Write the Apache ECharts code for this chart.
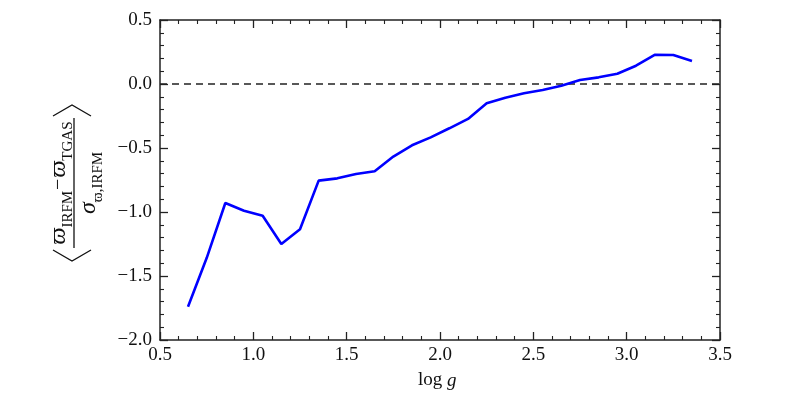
<!DOCTYPE html>
<html>
<head>
<meta charset="utf-8">
<script src="https://cdn.jsdelivr.net/npm/echarts@6/dist/echarts.min.js"></script>
<style>html,body{margin:0;padding:0;background:#fff;} #c{width:800px;height:400px;}</style>
</head>
<body>
<div id="c"></div>
<script>
const logg = [0.65,0.75,0.85,0.95,1.05,1.15,1.25,1.35,1.45,1.55,1.65,1.75,1.85,1.95,2.05,2.15,2.25,2.35,2.45,2.55,2.65,2.75,2.85,2.95,3.05,3.15,3.25,3.35];
const meanDiff = [-1.74,-1.36,-0.93,-0.99,-1.03,-1.25,-1.135,-0.755,-0.737,-0.703,-0.682,-0.567,-0.479,-0.417,-0.346,-0.273,-0.151,-0.107,-0.073,-0.047,-0.013,0.031,0.052,0.08,0.143,0.228,0.226,0.18];
const xRange = [0.5, 3.5];
const yRange = [-2.0, 0.5];
const zeroLine = [[0.5,0],[3.5,0]];

const FONT = '"Liberation Serif", "DejaVu Serif", serif';
const AX = '#222';
const fmt = v => v.toFixed(1).replace('-', '\u2212');

function mkX(pos, show) {
  return {
    type:'value', position:pos, min:xRange[0], max:xRange[1], interval:0.5,
    axisLine:{show:true, onZero:false, lineStyle:{color:AX, width:1.5}},
    axisTick:{show:true, inside:true, length:8, lineStyle:{color:AX, width:1.3}},
    minorTick:{show:true, splitNumber:5, length:4, lineStyle:{color:AX, width:1.1}},
    splitLine:{show:false},
    axisLabel:{show:show, color:'#111', fontFamily:FONT, fontSize:19, margin:6, formatter:fmt, showMinLabel:true, showMaxLabel:true}
  };
}
function mkY(pos, show) {
  return {
    type:'value', position:pos, min:yRange[0], max:yRange[1], interval:0.5,
    axisLine:{show:true, onZero:false, lineStyle:{color:AX, width:1.5}},
    axisTick:{show:true, inside:true, length:8, lineStyle:{color:AX, width:1.3}},
    minorTick:{show:true, splitNumber:5, length:4, lineStyle:{color:AX, width:1.1}},
    splitLine:{show:false},
    axisLabel:{show:show, color:'#111', fontFamily:FONT, fontSize:19, margin:8, formatter:fmt, showMinLabel:true, showMaxLabel:true}
  };
}

const chart = echarts.init(document.getElementById('c'), null, {renderer:'canvas'});
const subStyle = {fontFamily:FONT, fontSize:15, verticalAlign:'bottom', padding:[0,0,-5,0], fill:'#111'};
chart.setOption({
  animation:false,
  backgroundColor:'#fff',
  grid:{left:160, right:80, top:20, bottom:60, containLabel:false},
  xAxis:[mkX('bottom', true), mkX('top', false)],
  yAxis:[mkY('left', true), mkY('right', false)],
  series:[
    {type:'line', data:zeroLine, xAxisIndex:0, yAxisIndex:0, showSymbol:false, silent:true,
     lineStyle:{color:AX, width:1.3, type:[7,5]}},
    {type:'line', data:logg.map((x,i)=>[x, meanDiff[i]]), xAxisIndex:0, yAxisIndex:0,
     showSymbol:false, lineStyle:{color:'#0000ff', width:2.6}}
  ],
  graphic:[
    {type:'text', left:418, top:371, style:{
      text:'log {i|g}', fontFamily:FONT, fontSize:19, fill:'#111',
      rich:{i:{fontFamily:FONT, fontStyle:'italic', fontSize:19, fill:'#111'}}
    }},
    {type:'group', x:74, y:183, rotation:Math.PI/2, children:[
      {type:'line', shape:{x1:-65, y1:0, x2:65, y2:0}, style:{stroke:'#111', lineWidth:1.3}},
      {type:'text', x:0, y:-3, style:{
        text:'{v|ϖ}{s|IRFM}{m|−}{v|ϖ}{s|TGAS}', align:'center', verticalAlign:'bottom',
        rich:{
          v:{fontFamily:FONT, fontStyle:'italic', fontSize:24, fill:'#111', verticalAlign:'bottom'},
          m:{fontFamily:FONT, fontSize:20, fill:'#111', verticalAlign:'bottom', padding:[0,1,2,1]},
          s:subStyle
        }
      }},
      {type:'text', x:0, y:3, style:{
        text:'{v|σ}{s|ϖ,IRFM}', align:'center', verticalAlign:'top',
        rich:{
          v:{fontFamily:FONT, fontStyle:'italic', fontSize:24, fill:'#111', verticalAlign:'bottom'},
          s:subStyle
        }
      }},
      {type:'polyline', shape:{points:[[-67,-21],[-78,-2],[-67,17]]}, style:{stroke:'#111', lineWidth:1.3, fill:null}},
      {type:'polyline', shape:{points:[[67,-21],[78,-2],[67,17]]}, style:{stroke:'#111', lineWidth:1.3, fill:null}}
    ]}
  ]
});
</script>
</body>
</html>
